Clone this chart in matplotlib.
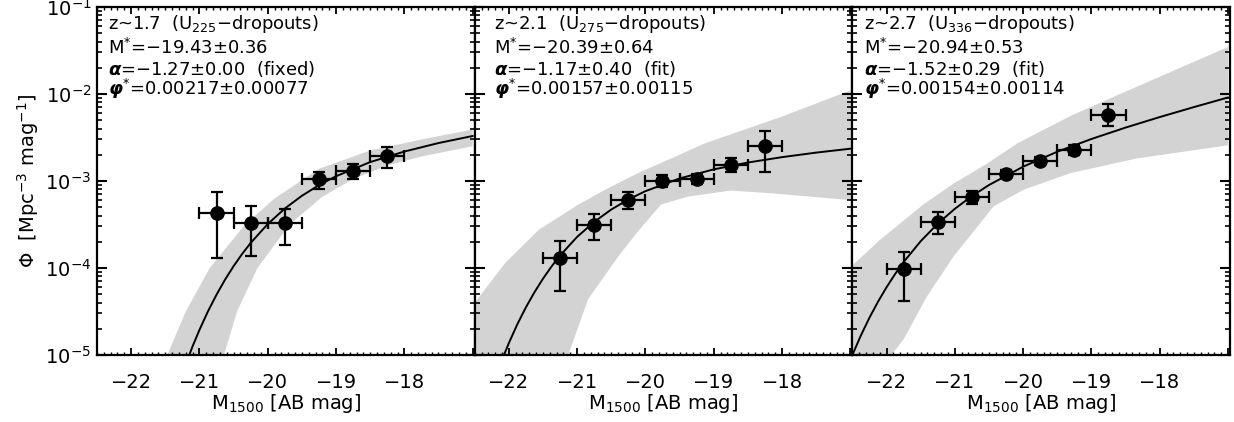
import numpy as np
import matplotlib
matplotlib.use("Agg")
import matplotlib.pyplot as plt
from matplotlib.ticker import MultipleLocator, LogLocator, NullFormatter, LogFormatterMathtext

plt.rcParams["font.family"] = ["DejaVu Sans"]
plt.rcParams["mathtext.fontset"] = "dejavusans"

# --- panel texts ---
titulos = ["z~1.7  (U$_{225}$\u2212dropouts)",
           "z~2.1  (U$_{275}$\u2212dropouts)",
           "z~2.7  (U$_{336}$\u2212dropouts)"]
mstar_txt = ["\u221219.43\u00b10.36", "\u221220.39\u00b10.64", "\u221220.94\u00b10.53"]
alpha_txt = ["\u22121.27\u00b10.00  (fixed)", "\u22121.17\u00b10.40  (fit)", "\u22121.52\u00b10.29  (fit)"]
phistar_txt = ["0.00217\u00b10.00077", "0.00157\u00b10.00115", "0.00154\u00b10.00114"]

# --- data points (M1500, phi, lower, upper) ---
m1 = [-20.75, -20.25, -19.75, -19.25, -18.75, -18.25]
phi1 = [4.33e-4, 3.27e-4, 3.27e-4, 1.05e-3, 1.31e-3, 1.93e-3]
lo1 = [1.30e-4, 1.39e-4, 1.85e-4, 8.0e-4, 1.05e-3, 1.40e-3]
hi1 = [7.4e-4, 5.2e-4, 4.78e-4, 1.28e-3, 1.57e-3, 2.47e-3]

m2 = [-21.25, -20.75, -20.25, -19.75, -19.25, -18.75, -18.25]
phi2 = [1.30e-4, 3.08e-4, 6.05e-4, 1.0e-3, 1.05e-3, 1.52e-3, 2.52e-3]
lo2 = [5.5e-5, 2.11e-4, 4.78e-4, 8.6e-4, 9.2e-4, 1.26e-3, 1.26e-3]
hi2 = [2.07e-4, 4.19e-4, 7.55e-4, 1.17e-3, 1.20e-3, 1.82e-3, 3.74e-3]

m3 = [-21.75, -21.25, -20.75, -20.25, -19.75, -19.25, -18.75]
phi3 = [9.8e-5, 3.42e-4, 6.5e-4, 1.20e-3, 1.71e-3, 2.27e-3, 5.7e-3]
lo3 = [4.14e-5, 2.45e-4, 5.46e-4, 1.07e-3, 1.52e-3, 1.99e-3, 4.27e-3]
hi3 = [1.52e-4, 4.38e-4, 7.74e-4, 1.34e-3, 1.90e-3, 2.58e-3, 7.6e-3]

dm = 0.25  # half bin width

# --- best fit curves ---
cm1 = [-21.2, -21.1, -21.0, -20.875, -20.75, -20.625, -20.5, -20.375, -20.25, -20.0, -19.75, -19.5,
       -19.25, -19.0, -18.5, -18.0, -17.5, -17.0]
cp1 = [7.82e-6, 1.26e-5, 1.94e-5, 3.18e-5, 4.93e-5, 7.35e-5, 1.05e-4, 1.45e-4, 1.94e-4, 3.20e-4,
       4.82e-4, 6.76e-4, 8.96e-4, 1.135e-3, 1.65e-3, 2.18e-3, 2.73e-3, 3.29e-3]

cm2 = [-22.25, -22.125, -22.0, -21.875, -21.75, -21.625, -21.5, -21.375, -21.25, -21.0, -20.75,
       -20.5, -20.25, -20.0, -19.5, -19.0, -18.5, -18.0, -17.5, -17.0]
cp2 = [4.22e-6, 7.86e-6, 1.37e-5, 2.26e-5, 3.53e-5, 5.26e-5, 7.53e-5, 1.04e-4, 1.39e-4, 2.28e-4,
       3.39e-4, 4.70e-4, 6.13e-4, 7.64e-4, 1.07e-3, 1.36e-3, 1.63e-3, 1.88e-3, 2.12e-3, 2.35e-3]

cm3 = [-22.5, -22.375, -22.25, -22.125, -22.0, -21.875, -21.75, -21.5, -21.25, -21.0, -20.75,
       -20.5, -20.0, -19.5, -19.0, -18.5, -18.0, -17.5, -17.0]
cp3 = [1.00e-5, 1.68e-5, 2.68e-5, 4.09e-5, 6.00e-5, 8.51e-5, 1.17e-4, 2.03e-4, 3.23e-4, 4.79e-4,
       6.71e-4, 8.99e-4, 1.46e-3, 2.17e-3, 3.04e-3, 4.11e-3, 5.43e-3, 7.07e-3, 9.12e-3]

# --- uncertainty band (upper / lower edge) ---
bum1 = [-21.47, -21.2, -20.85, -20.33, -19.9, -19.25, -18.5, -17.75, -17.0]
bup1 = [1.0e-5, 3.16e-5, 1.0e-4, 3.16e-4, 6.3e-4, 1.38e-3, 2.24e-3, 3.0e-3, 3.9e-3]
blm1 = [-20.64, -20.45, -20.15, -19.68, -19.2, -18.75, -18.25, -17.75, -17.0]
blp1 = [1.0e-5, 3.16e-5, 1.0e-4, 3.16e-4, 6.6e-4, 1.05e-3, 1.51e-3, 1.91e-3, 2.51e-3]

bum2 = [-22.5, -22.05, -21.56, -21.0, -20.59, -20.11, -19.62, -19.14, -18.0, -17.0]
bup2 = [3.98e-5, 1.15e-4, 2.75e-4, 5.25e-4, 7.94e-4, 1.23e-3, 1.82e-3, 2.69e-3, 5.5e-3, 1.1e-2]
blm2 = [-22.5, -21.13, -20.84, -20.40, -20.11, -19.77, -19.38, -18.75, -18.17, -17.0]
blp2 = [1.0e-5, 1.0e-5, 4.37e-5, 1.35e-4, 2.63e-4, 5.37e-4, 6.61e-4, 7.76e-4, 7.24e-4, 6.03e-4]

bum3 = [-22.5, -22.1, -21.46, -21.02, -20.53, -20.09, -19.3, -18.58, -17.0]
bup3 = [1.07e-4, 2.09e-4, 5.37e-4, 9.33e-4, 1.58e-3, 2.69e-3, 5.62e-3, 1.0e-2, 3.47e-2]
blm3 = [-22.5, -21.93, -21.75, -21.41, -21.02, -20.43, -19.99, -19.31, -18.33, -17.0]
blp3 = [1.0e-5, 1.0e-5, 1.51e-5, 4.68e-5, 1.35e-4, 5.13e-4, 7.94e-4, 1.23e-3, 1.82e-3, 2.57e-3]

pontos = [(m1, phi1, lo1, hi1), (m2, phi2, lo2, hi2), (m3, phi3, lo3, hi3)]
curvas = [(cm1, cp1), (cm2, cp2), (cm3, cp3)]
faixas = [(bum1, bup1, blm1, blp1), (bum2, bup2, blm2, blp2), (bum3, bup3, blm3, blp3)]
txt_x = [0.03, 0.05, 0.03]

fig, axes = plt.subplots(1, 3, figsize=(12.34, 4.22), dpi=100, sharey=True)
fig.subplots_adjust(left=0.0786, right=0.9968, bottom=0.1588, top=0.9834, wspace=0)

for i, ax in enumerate(axes):
    m, phi, lo, hi = [np.array(v) for v in pontos[i]]
    cm, cp = curvas[i]
    um, up, lm, lp = faixas[i]

    # faixa cinza
    ax.fill(np.concatenate([um, lm[::-1]]), np.concatenate([up, lp[::-1]]),
            color="#d3d3d3", lw=0, zorder=1)

    # ajuste
    ax.plot(cm, cp, color="k", lw=1.4, zorder=2)

    # pontos
    ax.errorbar(m, phi, yerr=[phi - lo, hi - phi], xerr=dm, fmt="o", color="k",
                ms=9.5, capsize=4.6, elinewidth=1.6, capthick=1.6, zorder=3)

    ax.set_yscale("log")
    ax.set_ylim(1e-5, 1e-1)
    ax.set_xlim(-22.5, -16.97)

    ax.set_xticks([-22, -21, -20, -19, -18, -17])
    ax.set_xticklabels(["\u221222", "\u221221", "\u221220", "\u221219", "\u221218", ""])
    ax.xaxis.set_minor_locator(MultipleLocator(0.1))
    ax.yaxis.set_major_locator(LogLocator(base=10, numticks=10))
    ax.yaxis.set_major_formatter(LogFormatterMathtext())
    ax.yaxis.set_minor_locator(LogLocator(base=10, subs=np.arange(2, 10), numticks=20))
    ax.yaxis.set_minor_formatter(NullFormatter())

    ax.tick_params(which="both", direction="in", top=True, right=True, labelsize=14)
    ax.tick_params(axis="x", which="major", length=5, width=1.3, pad=13)
    ax.tick_params(axis="x", which="minor", length=2, width=1.0)
    ax.tick_params(axis="y", which="major", length=7, width=1.5, pad=4)
    ax.tick_params(axis="y", which="minor", length=3.5, width=1.2)
    if i > 0:
        ax.tick_params(labelleft=False)

    for s in ax.spines.values():
        s.set_linewidth(1.6)

    ax.set_xlabel("M$_{1500}$ [AB mag]", fontsize=14, labelpad=0)

    linhas = [titulos[i],
              "M$^{*}$=" + mstar_txt[i],
              r"$\mathbfit{\alpha}$=" + alpha_txt[i],
              r"$\mathbfit{\varphi}^{*}$=" + phistar_txt[i]]
    ys = [0.952, 0.882, 0.822, 0.764]
    for t, yy in zip(linhas, ys):
        ax.text(txt_x[i], yy, t, transform=ax.transAxes, fontsize=13, va="center", ha="left")

axes[0].set_ylabel("\u03a6  [Mpc$^{-3}$ mag$^{-1}$]", fontsize=14, labelpad=3)

plt.savefig("out.png", dpi=100)
